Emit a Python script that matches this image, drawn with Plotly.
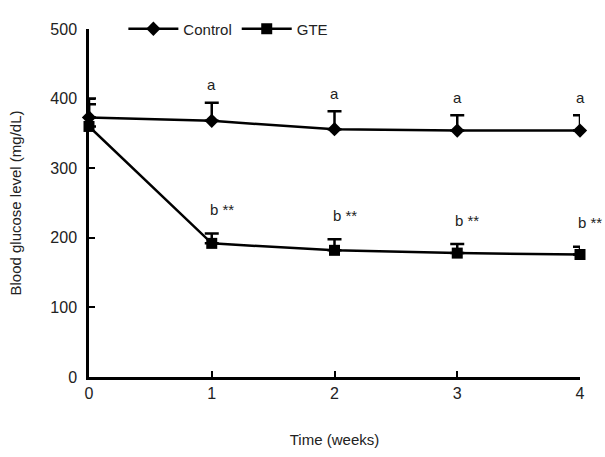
import plotly.graph_objects as go

weeks = [0, 1, 2, 3, 4]
control = [373, 368, 356, 354, 354]
control_err = [27, 26, 26, 22, 22]
gte = [360, 192, 182, 178, 176]
gte_err = [32, 14, 16, 13, 11]
control_labels = ["", "a", "a", "a", "a"]
gte_labels = ["", "b **", "b **", "b **", "b **"]

fig = go.Figure()
fig.add_trace(go.Scatter(
    x=weeks, y=control, name="Control", mode="lines+markers",
    line=dict(color="black", width=2.5),
    marker=dict(symbol="diamond", size=11, color="black"),
    error_y=dict(type="data", array=control_err, arrayminus=[0]*5, symmetric=False,
                 color="black", thickness=2.5, width=7),
    cliponaxis=False,
))
fig.add_trace(go.Scatter(
    x=weeks, y=gte, name="GTE", mode="lines+markers",
    line=dict(color="black", width=2.5),
    marker=dict(symbol="square", size=11, color="black"),
    error_y=dict(type="data", array=gte_err, arrayminus=[0]*5, symmetric=False,
                 color="black", thickness=2.5, width=7),
    cliponaxis=False,
))

for x, y, e, t in zip(weeks, control, control_err, control_labels):
    if t:
        fig.add_annotation(x=x, y=y + e, text=t, showarrow=False, yshift=18,
                           font=dict(size=15, color="#222"))
for x, y, e, t in zip(weeks, gte, gte_err, gte_labels):
    if t:
        fig.add_annotation(x=x, y=y + e, text=t, showarrow=False, yshift=24, xshift=10,
                           font=dict(size=15, color="#222"))

fig.update_layout(
    width=605, height=457,
    margin=dict(l=89, r=25, t=19, b=80),
    plot_bgcolor="white", paper_bgcolor="white",
    font=dict(family="Liberation Sans, Arial, sans-serif", size=15, color="#222"),
    showlegend=True,
    legend=dict(orientation="h", x=0.07, y=1.0, xanchor="left", yanchor="middle",
                font=dict(size=15), bgcolor="rgba(0,0,0,0)", itemwidth=50),
    xaxis=dict(range=[0, 4], tickvals=weeks, ticks="inside", ticklen=6, tickwidth=2,
               tickcolor="black", showline=True, linecolor="black", linewidth=2.5,
               showgrid=False, zeroline=False, tickfont=dict(size=16),
               title=dict(text="Time (weeks)", standoff=34, font=dict(size=15))),
    yaxis=dict(range=[0, 500], tickvals=[0, 100, 200, 300, 400, 500], ticks="inside",
               ticklen=6, tickwidth=2, tickcolor="black", showline=True, linecolor="black",
               linewidth=2.5, showgrid=False, zeroline=False, tickfont=dict(size=16),
               ticklabelstandoff=6,
               title=dict(text="Blood glucose level (mg/dL)", standoff=26, font=dict(size=15))),
)

fig.write_html("out.html")
